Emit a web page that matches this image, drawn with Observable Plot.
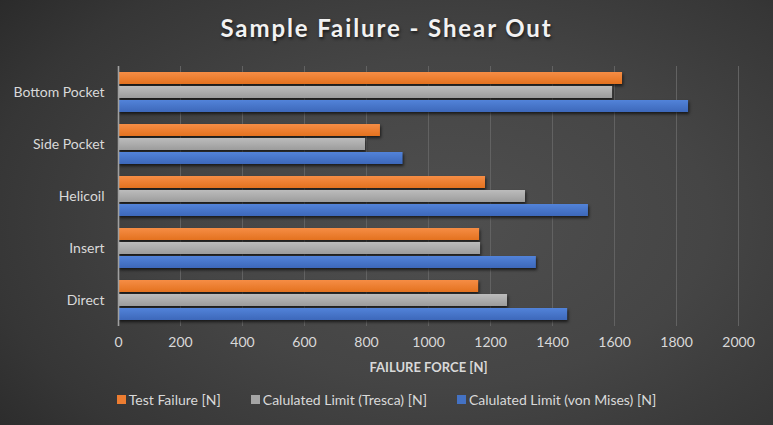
<!DOCTYPE html>
<html><head><meta charset="utf-8">
<script src="https://cdn.jsdelivr.net/npm/d3@7"></script>
<script src="https://cdn.jsdelivr.net/npm/@observablehq/plot@0.6"></script>
<style>
html,body{margin:0;padding:0;background:#333;}
#chart{position:relative;width:773px;height:425px;overflow:hidden;
  background:radial-gradient(ellipse 75% 85% at 58% 52%, #4f4f4f 0%, #454545 45%, #363636 80%, #2a2a2a 100%);
  font-family:Lato,"Open Sans","DejaVu Sans",sans-serif;}
#title{position:absolute;top:13px;left:0;width:773px;text-align:center;color:#f2f2f2;font-weight:bold;font-size:24px;letter-spacing:1.9px;text-shadow:1px 2px 3px rgba(0,0,0,0.6);}
#plot{position:absolute;left:0;top:0;}
#xlabel{position:absolute;left:118px;width:621px;top:359px;text-align:center;color:#d9d9d9;font-weight:bold;font-size:13px;}
#legend{position:absolute;left:0;width:773px;top:391px;display:flex;justify-content:center;gap:30px;color:#d9d9d9;font-size:14px;}
#legend .item{display:flex;align-items:center;gap:3px;}
#legend .sw{width:9px;height:9px;display:inline-block;}
</style></head>
<body>
<div id="chart">
  <div id="plot"></div>
  <div id="title">Sample Failure - Shear Out</div>
  <div id="xlabel"></div>
  <div id="legend"></div>
</div>
<script>
const categories = ["Bottom Pocket", "Side Pocket", "Helicoil", "Insert", "Direct"];
const seriesNames = ["Test Failure [N]", "Calulated Limit (Tresca) [N]", "Calulated Limit (von Mises) [N]"];
const testFailure = [1626, 845, 1184, 1165, 1162];
const trescaLimit = [1594, 797, 1313, 1168, 1255];
const vonMisesLimit = [1839, 918, 1516, 1348, 1449];
const xTicks = [0, 200, 400, 600, 800, 1000, 1200, 1400, 1600, 1800, 2000];
const xTitle = "FAILURE FORCE [N]";
const seriesColors = ["#ED7D31", "#A5A5A5", "#4472C4"];
const gradStops = [["#f68d45", "#e4721f"], ["#bcbcbc", "#9c9c9c"], ["#5283d9", "#3d68ba"]];

const seriesValues = [testFailure, trescaLimit, vonMisesLimit];
const rows = [];
seriesValues.forEach((vals, s) => vals.forEach((v, i) => rows.push({category: categories[i], series: s, value: v})));

const barMarks = seriesValues.map((_, s) =>
  Plot.barX(rows.filter(d => d.series === s), {
    x: "value", y: "category", fill: `url(#grad${s})`, dy: (s - 1) * 14
  })
);

const svg = Plot.plot({
  width: 773, height: 425,
  marginLeft: 118, marginRight: 35, marginTop: 66, marginBottom: 99,
  style: {background: "transparent", color: "#d9d9d9", fontSize: "14px", fontFamily: "Lato, 'Open Sans', sans-serif"},
  x: {domain: [0, 2000], ticks: xTicks},
  y: {domain: categories, paddingInner: 40 / 52, paddingOuter: 20 / 52},
  marks: [
    Plot.gridX(xTicks, {stroke: "#626262", strokeOpacity: 1, strokeWidth: 1}),
    ...barMarks,
    Plot.ruleX([0], {stroke: "#a0a0a0", strokeWidth: 1.6}),
    Plot.axisX({ticks: xTicks, tickFormat: d => String(d), tickSize: 0, tickPadding: 11, label: null, fill: "#d9d9d9"}),
    Plot.axisY({tickSize: 0, tickPadding: 14, label: null, fill: "#d9d9d9"})
  ]
});

const defs = d3.select(svg).insert("defs", ":first-child");
gradStops.forEach((st, s) => {
  const g = defs.append("linearGradient").attr("id", `grad${s}`).attr("x1", 0).attr("y1", 0).attr("x2", 0).attr("y2", 1);
  g.append("stop").attr("offset", "0%").attr("stop-color", st[0]);
  g.append("stop").attr("offset", "100%").attr("stop-color", st[1]);
});
d3.select(svg).selectAll('g[aria-label="bar"]').style("filter", "drop-shadow(1px 2px 1.5px rgba(0,0,0,0.65))");

document.getElementById("plot").appendChild(svg);
document.getElementById("xlabel").textContent = xTitle;

const legend = d3.select("#legend");
seriesNames.forEach((name, s) => {
  const it = legend.append("div").attr("class", "item");
  it.append("span").attr("class", "sw").style("background", seriesColors[s]);
  it.append("span").text(name);
});
</script>
</body></html>
